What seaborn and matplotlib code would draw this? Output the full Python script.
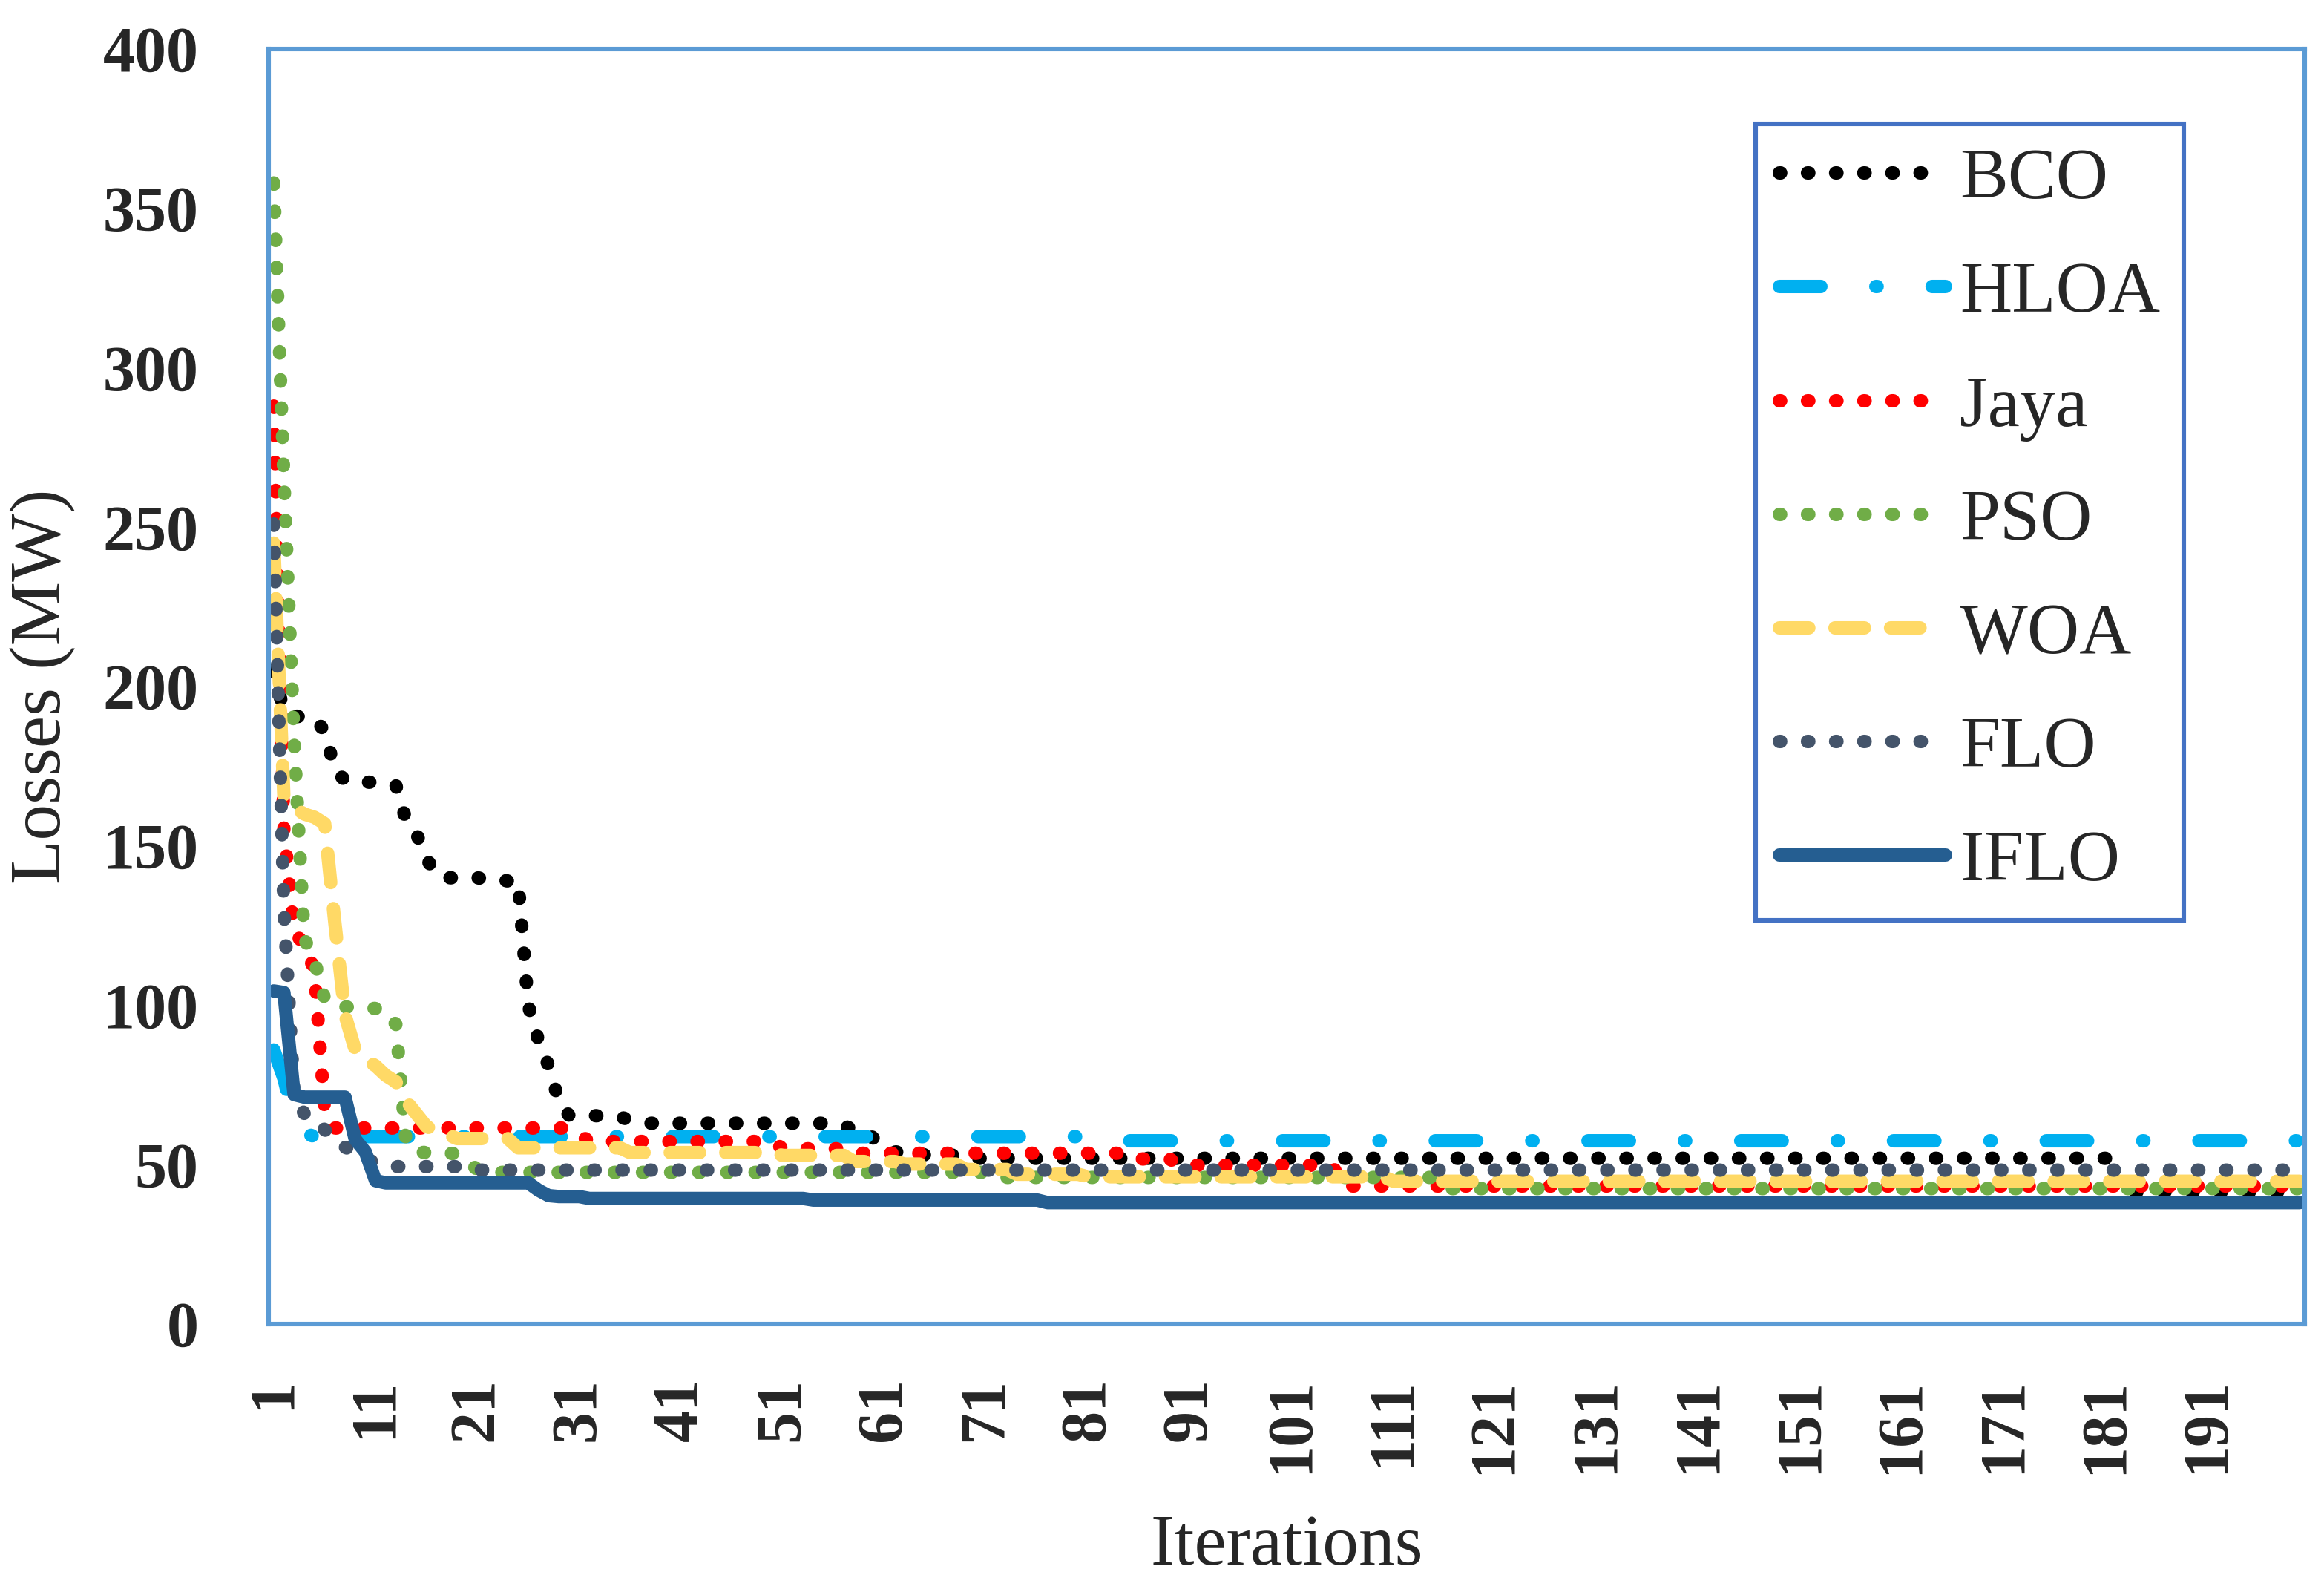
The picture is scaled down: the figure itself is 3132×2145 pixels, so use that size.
import numpy as np
import pandas as pd
import matplotlib
matplotlib.use("Agg")
import matplotlib.pyplot as plt
import seaborn as sns

# dati (perdite in MW per iterazione, 200 iterazioni)
iterations = list(range(1, 201))

bco = ([205, 192, 191, 190, 190, 186, 174, 170.5, 170, 170, 170, 169.5, 169,
        158, 154, 146, 141, 140, 140, 140, 140, 139.5, 139.5, 139, 139,
        100, 89, 81, 70, 65.5, 65.5, 65.5, 65.3, 65, 65, 64, 63.5]
       + [63] * 18 + [62.2] * 2 + [61] * 2 + [58, 55.2] + [54] * 3
       + [53] * 4 + [52] * 113 + [41.5] * 19)

hloa = [86, 77, 64, 60] + [58.8] * 76 + [57.5] * 120

jaya = ([288, 155, 123, 119, 111, 67, 61.5] + [61.5] * 23 + [59.5]
        + [57.3] * 19 + [55] * 7 + [53.6] * 27 + [51.8] * 5
        + [49.8] * 16 + [43.3] * 95)

pso = ([358, 265, 183, 121, 114, 102, 99.5, 99.5, 99.3, 99.2, 99, 98.5, 94,
        57, 54, 53.8, 53.7, 53.6, 53.5, 51, 48.5]
       + [47.6] * 51 + [46] * 43 + [42.5] * 85)

woa = ([245, 165, 162, 160, 159, 157, 126, 97, 86, 83, 81, 78, 76, 70, 66,
        62, 60.5, 59.5] + [58.2] * 6 + [55.3] * 11 + [53.8] * 15
       + [52.9] * 7 + [51] * 5 + [50.2] * 6 + [48.5] * 5 + [47] * 7
       + [46.2] * 30 + [44.8] * 90)

flo = ([251, 130, 72, 66, 65, 61, 57.5, 55.5, 54, 52, 50.5, 49.8, 49.4]
       + [49.4] * 7 + [48.3] * 180)

iflo = ([104.5, 104, 72] + [71.2] * 5 + [58, 54, 45] + [44.3] * 15
        + [42, 40.3] + [40] * 3 + [39.4] * 22 + [38.9] * 23 + [38.1] * 124)

names = ['BCO', 'HLOA', 'Jaya', 'PSO', 'WOA', 'FLO', 'IFLO']
series = [bco, hloa, jaya, pso, woa, flo, iflo]

xtick_values = list(range(1, 200, 10))
xtick_labels = [str(v) for v in xtick_values]
ytick_values = [0, 50, 100, 150, 200, 250, 300, 350, 400]
ytick_labels = [str(v) for v in ytick_values]

# stile delle linee (come in Excel)
colors = ['#000000', '#00B0F0', '#FF0000', '#70AD47', '#FFD966', '#44546A', '#255E91']
dot = (0, (0.1, 2.0))
styles = [dot, (0, (3.1, 4.1, 0.1, 4.1)), dot, dot, (0, (2.2, 1.95)), dot, '-']
LW = 6.5

sns.set_theme(style="white")
plt.rcParams['font.family'] = ['Liberation Serif', 'DejaVu Serif']

fig = plt.figure(figsize=(15.66, 10.725), dpi=200)
ax = fig.add_axes([0.1156, 0.1683, 0.8761, 0.8009])

for name, vals, col, ls in zip(names, series, colors, styles):
    sns.lineplot(x=iterations, y=vals, ax=ax, color=col, linewidth=LW,
                 linestyle=ls, dash_capstyle='round', solid_capstyle='round',
                 solid_joinstyle='round', dash_joinstyle='round',
                 errorbar=None, label=name)

ax.set_xlim(0.5, 200.5)
ax.set_ylim(0, 400)
ax.set_xticks(xtick_values)
ax.set_xticklabels(xtick_labels, rotation=90, fontsize=31, fontweight='bold')
ax.set_yticks(ytick_values)
ax.set_yticklabels(ytick_labels, fontsize=31, fontweight='bold')
ax.tick_params(axis='x', length=0, pad=26)
ax.tick_params(axis='y', length=0, pad=34)

ax.set_ylabel('Losses (MW)', fontsize=35, ha='center', va='center')
ax.yaxis.set_label_coords(-0.111, 0.5)
ax.set_xlabel('Iterations', fontsize=35, ha='center', va='center')
ax.xaxis.set_label_coords(0.5, -0.175)

for sp in ax.spines.values():
    sp.set_visible(True)
    sp.set_color('#5B9BD5')
    sp.set_linewidth(2.2)
ax.grid(False)

leg = ax.legend(loc='upper left', bbox_to_anchor=(2366 / 3132, 1 - 167 / 2145),
                bbox_transform=fig.transFigure, fontsize=35, frameon=True,
                fancybox=False, edgecolor='#4472C4', handlelength=2.3,
                handletextpad=0.2, labelspacing=0.66, borderpad=0.33,
                borderaxespad=0)
leg.get_frame().set_linewidth(2.2)
leg.get_frame().set_alpha(1)

fig.savefig('out.png', dpi=200, facecolor='white')
